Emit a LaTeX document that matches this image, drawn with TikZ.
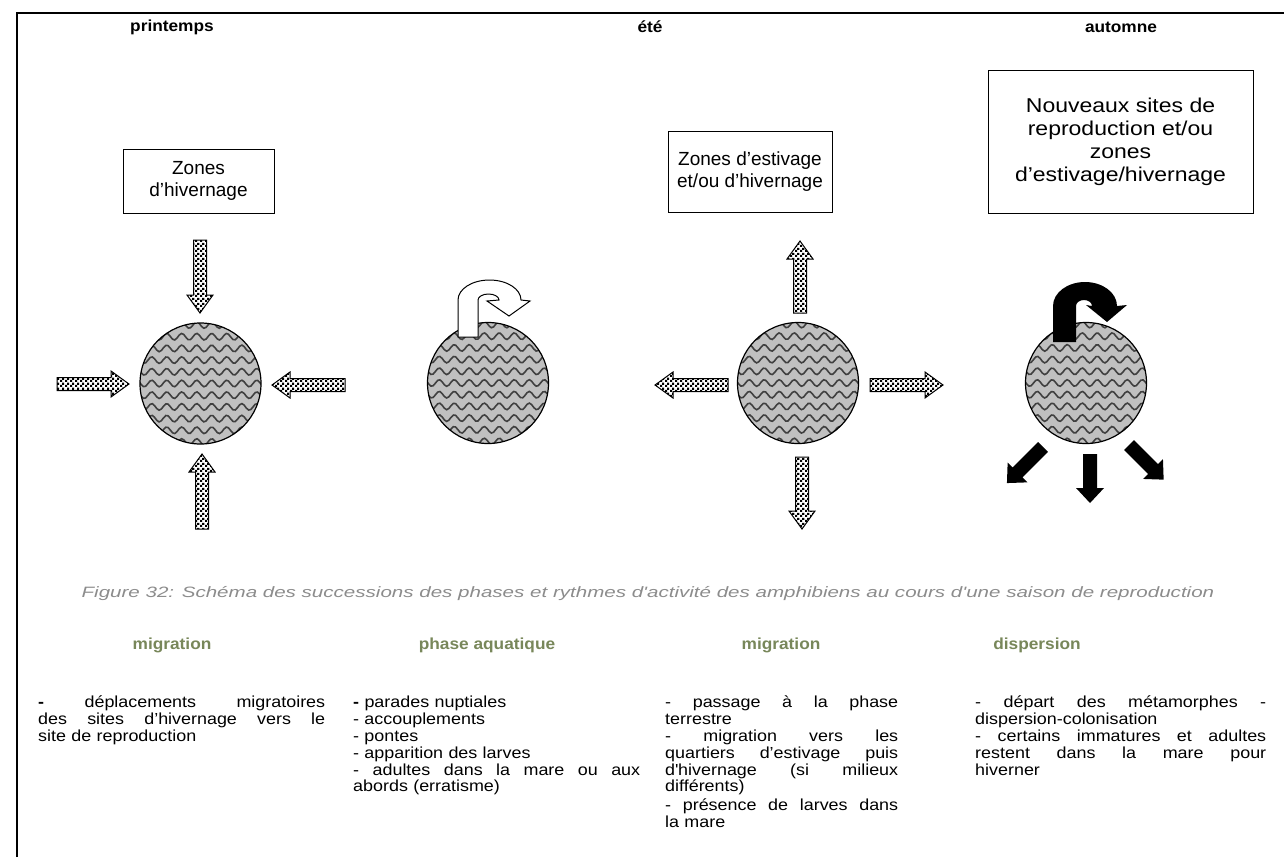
\documentclass[tikz,border=0pt]{standalone}
\usepackage{fontspec}
\setmainfont{Liberation Sans}
\newfontfamily\bodyfont[FakeStretch=1.12]{Liberation Sans}
\newfontfamily\capfont[FakeStretch=1.37]{Liberation Sans}
\newfontfamily\hdrfont[FakeStretch=1.08]{Liberation Sans}
\newfontfamily\bigboxfont[FakeStretch=1.15]{Liberation Sans}
\usetikzlibrary{patterns}
\pgfdeclarepatternformonly{finechk}{\pgfpointorigin}{\pgfqpoint{5pt}{5pt}}{\pgfqpoint{5pt}{5pt}}{%
  \pgfpathrectangle{\pgfpointorigin}{\pgfqpoint{2.5pt}{2.5pt}}%
  \pgfpathrectangle{\pgfqpoint{2.5pt}{2.5pt}}{\pgfqpoint{2.5pt}{2.5pt}}%
  \pgfusepath{fill}}
\definecolor{olivehd}{RGB}{120,135,90}
\definecolor{capgray}{RGB}{140,140,140}
\definecolor{pondgray}{RGB}{192,192,192}
\definecolor{wavegray}{RGB}{64,64,64}
\newcommand\jl[2]{\makebox[#1][s]{\spaceskip=0pt\xspaceskip=0pt #2}}
\newcommand\pondwaves[1]{%
  \begin{scope}
    \clip (#1.center) circle (60.5);
    \foreach \k in {-6,...,6}{
      \draw[wavegray, line width=1.6pt, shift={(#1.center)}] plot[domain=-66:66, samples=60] (\x, {\k*11.7+3.3*sin(24*\x)});
    }
  \end{scope}
  \draw[line width=1.2pt] (#1.center) circle (60.5);
}
\newcommand\chkarrow[3]{%
  \draw[line width=1pt, pattern=finechk, shift={#1}, rotate=#2]
    (0,-6.5) -- ({#3-18},-6.5) -- ({#3-18},-13) -- (#3,0) -- ({#3-18},13) -- ({#3-18},6.5) -- (0,6.5) -- cycle;}
\newcommand\blkarrow[3]{%
  \fill[black, shift={#1}, rotate=#2]
    (0,-7) -- ({#3-15},-7) -- ({#3-15},-14) -- (#3,0) -- ({#3-15},14) -- ({#3-15},7) -- (0,7) -- cycle;}
\begin{document}
\begin{tikzpicture}[x=1pt,y=-1pt,
  hdr/.style={font=\hdrfont\fontsize{16}{18}\selectfont\bfseries, inner sep=0},
  boxtxt/.style={draw, line width=1pt, align=center, inner sep=0, font=\fontsize{19}{22.5}\selectfont},
  pond/.style={circle, minimum size=121pt, inner sep=0, fill=pondgray},
  captxt/.style={font=\capfont\fontsize{15}{17}\selectfont\itshape, text=capgray, inner sep=0},
  subhdr/.style={font=\hdrfont\fontsize{16}{18}\selectfont\bfseries, text=olivehd, inner sep=0},
  body/.style={font=\bodyfont\fontsize{16}{16.8}\selectfont, align=left, inner sep=0, anchor=north west}]
\useasboundingbox (0,0) rectangle (1284,857);
\fill[white] (0,0) rectangle (1284,857);
\draw[line width=2pt] (17,857) -- (17,13) -- (1284,13);

% season headers
\node[hdr] (s1) at (172,27) {printemps};
\node[hdr] (s2) at (650,27) {été};
\node[hdr] (s3) at (1121,27) {automne};

% boxes
\node[boxtxt, minimum width=151pt, minimum height=64pt] (b1) at (198.5,181) {Zones\\d’hivernage};
\node[boxtxt, minimum width=164pt, minimum height=81pt] (b2) at (750,171.5) {Zones d’estivage\\et/ou d’hivernage};
\node[boxtxt, minimum width=265pt, minimum height=143pt, font=\bigboxfont\fontsize{20}{23}\selectfont] (b3) at (1120.5,141.5) {Nouveaux sites de\\reproduction et/ou\\zones\\d’estivage/hivernage};

% ponds
\node[pond] (c1) at (200.5,383.5) {};
\node[pond] (c2) at (488,383) {};
\node[pond] (c3) at (798,383) {};
\node[pond] (c4) at (1086,383) {};
\pondwaves{c1}
\pondwaves{c2}
\pondwaves{c3}
\pondwaves{c4}

% spring arrows (towards pond)
\chkarrow{(200,240)}{270}{73}
\chkarrow{(202,529)}{90}{75}
\chkarrow{(57,384)}{0}{72}
\chkarrow{(345,385)}{180}{73}

% summer arrows (away from pond)
\chkarrow{(800,313)}{90}{72}
\chkarrow{(802,457)}{270}{72}
\chkarrow{(728,385)}{180}{73}
\chkarrow{(870,385)}{0}{73}

% U-turn arrows
\draw[line width=1pt, fill=white, shift={(c2.center)}]
  (-30,-46) -- (-30,-83) arc[start angle=180, end angle=360, x radius=31.5, y radius=20]
  -- (42,-82) -- (21,-67) -- (-1,-82) -- (11,-83)
  arc[start angle=0, end angle=-180, x radius=10.5, y radius=6] -- (-10,-46) -- cycle;
\fill[black, shift={(c4.center)}]
  (-33,-41) -- (-33,-77) arc[start angle=180, end angle=360, x radius=32, y radius=24]
  -- (41,-78) -- (21,-61) -- (0,-78) -- (6,-77)
  arc[start angle=0, end angle=-180, x radius=8, y radius=6] -- (-10,-41) -- cycle;

% dispersal arrows
\blkarrow{(1043,447)}{225}{51}
\blkarrow{(1090,454)}{270}{49}
\blkarrow{(1129,445)}{315}{49}

% caption
\node[captxt] (cap) at (648,594) {Figure 32: Schéma des successions des phases et rythmes d'activité des amphibiens au cours d'une saison de reproduction};

% sub headers
\node[subhdr] (p1) at (172,645) {migration};
\node[subhdr] (p2) at (487,645) {phase aquatique};
\node[subhdr] (p3) at (781,645) {migration};
\node[subhdr] (p4) at (1037,645) {dispersion};

% text columns
\node[body, text width=287pt] (t1) at (38,696) {\jl{287pt}{\textbf{-} déplacements migratoires}\\
\jl{287pt}{des sites d’hivernage vers le}\\
site de reproduction};
\node[body, text width=287pt] (t2) at (353,696) {\textbf{-} parades nuptiales\\
- accouplements\\
- pontes\\
- apparition des larves\\
\jl{287pt}{- adultes dans la mare ou aux}\\
abords (erratisme)};
\node[body, text width=233pt] (t3) at (665,696) {\jl{233pt}{- passage à la phase}\\
terrestre\\
\jl{233pt}{- migration vers les}\\
\jl{233pt}{quartiers d’estivage puis}\\
\jl{233pt}{d\textquotesingle hivernage (si milieux}\\
différents)\\[1.5pt]
\jl{233pt}{- présence de larves dans}\\
la mare};
\node[body, text width=291pt] (t4) at (975,696) {\jl{291pt}{- départ des métamorphes -}\\
dispersion-colonisation\\
\jl{291pt}{- certains immatures et adultes}\\
\jl{291pt}{restent dans la mare pour}\\
hiverner};
\end{tikzpicture}
\end{document}
